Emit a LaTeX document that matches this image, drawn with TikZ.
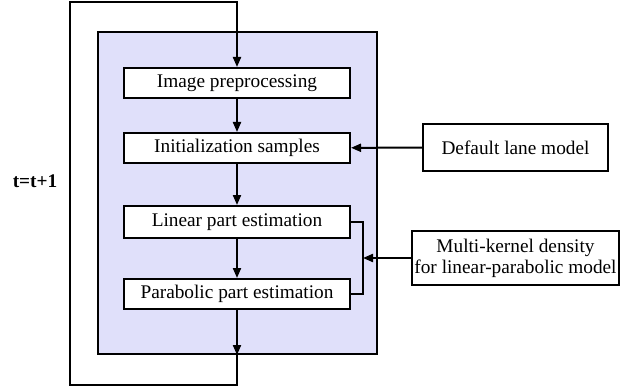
\documentclass[tikz,border=0pt]{standalone}
\usepackage{fontspec}
\setmainfont{Liberation Serif}
\usepackage{xcolor}
\definecolor{panel}{RGB}{224,224,250}
\usetikzlibrary{positioning, arrows.meta}

\begin{document}
\begin{tikzpicture}[
  x=1pt, y=-1pt,
  line width=2pt,
  >={Triangle[length=10pt,width=8pt]},
  stage/.style={draw, fill=white, minimum width=226pt, minimum height=30pt,
                inner sep=0pt, font=\fontsize{19.3}{21}\selectfont},
  source/.style={draw, fill=white, inner sep=0pt, align=center,
                 font=\fontsize{19.3}{21}\selectfont},
]
  \useasboundingbox (0,0) rectangle (636,390);

  % shaded panel holding the per-frame stages
  \node[draw, fill=panel, minimum width=279pt, minimum height=322pt, inner sep=0pt]
    (frame) at (237.5,193) {};

  \node[stage] (pre)  at (237,83)  {Image preprocessing};
  \node[stage] (init) at (237,148) {Initialization samples};
  \node[stage, minimum height=32pt] (lin) at (237,222) {Linear part estimation};
  \node[stage] (para) at (237,294) {Parabolic part estimation};

  % external inputs
  \node[source, minimum width=185pt, minimum height=47pt] (lane) at (515.5,147.5)
    {Default lane model};
  \node[source, minimum width=207pt, minimum height=54pt] (kernel) at (515.5,258)
    {Multi-kernel density\\for linear-parabolic model};

  \node[font=\fontsize{19.3}{21}\selectfont\bfseries] (iter) at (35,181) {t=t+1};

  % main chain
  \draw[->] (pre) -- (init);
  \draw[->] (init) -- (lin);
  \draw[->] (lin) -- (para);
  \coordinate (out) at (para.south |- frame.south);
  \draw[->] (para) -- (out);

  % feedback loop to the next frame
  \coordinate (top) at (pre.north |- 0,2);
  \draw[->] (out) -- ++(0,30) -| (70,2) -- (top) -- (pre.north);

  % inputs
  \draw[->] (lane) -- (init);
  \coordinate (join) at (363,258);
  \draw (lin.east) -| (join) |- (para.east);
  \draw[->] (kernel) -- (join);
\end{tikzpicture}
\end{document}
